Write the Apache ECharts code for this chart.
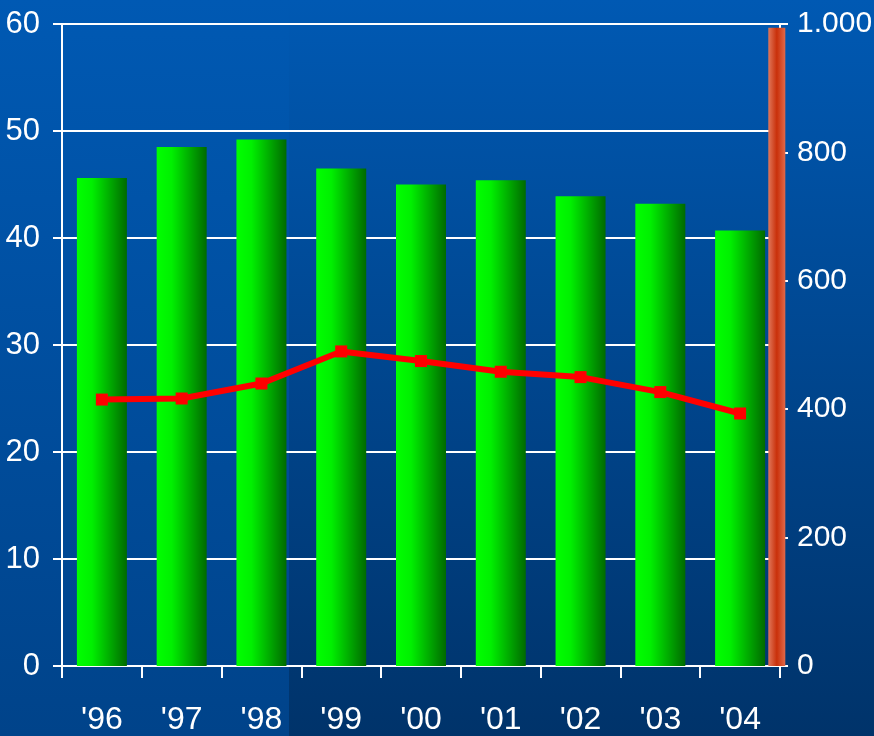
<!DOCTYPE html>
<html>
<head>
<meta charset="utf-8">
<script src="https://cdn.jsdelivr.net/npm/echarts@6/dist/echarts.min.js"></script>
<style>
html, body { margin: 0; padding: 0; background: #003366; }
#chart { width: 874px; height: 736px; }
</style>
</head>
<body>
<div id="chart"></div>
<script>
// data
var years = ["'96", "'97", "'98", "'99", "'00", "'01", "'02", "'03", "'04"];
var barValues = [45.6, 48.5, 49.2, 46.5, 45.0, 45.4, 43.9, 43.2, 40.7];
var lineValues = [24.9, 25.0, 26.4, 29.4, 28.5, 27.5, 27.0, 25.6, 23.6];
// orange bar on the right axis, sits just past the last year
var totalBar = [[8.96, 994]];

var FONT = "'Liberation Sans', Arial, sans-serif";

var myChart = echarts.init(document.getElementById('chart'));

var option = {
	animation: false,
	backgroundColor: 'transparent',
	graphic: [
		{
			type: 'rect', z: -10, silent: true,
			shape: { x: 0, y: 0, width: 289, height: 736 },
			style: { fill: new echarts.graphic.LinearGradient(0, 0, 0, 1, [
				{ offset: 0, color: '#0059b3' },
				{ offset: 1, color: '#00438a' }
			]) }
		},
		{
			type: 'rect', z: -10, silent: true,
			shape: { x: 289, y: 0, width: 585, height: 736 },
			style: { fill: new echarts.graphic.LinearGradient(0, 0, 0, 1, [
				{ offset: 0, color: '#0059b3' },
				{ offset: 1, color: '#00336a' }
			]) }
		}
	],
	grid: {
		left: 62,
		right: 94,
		top: 24,
		bottom: 70,
		outerBoundsMode: 'none'
	},
	xAxis: [
		{
			type: 'category',
			data: years,
			boundaryGap: true,
			axisLine: { lineStyle: { color: '#fff', width: 2 } },
			axisTick: { show: true, length: 12, lineStyle: { color: '#fff', width: 2 } },
			axisLabel: { color: '#fff', fontFamily: FONT, fontSize: 32, margin: 38 }
		},
		{
			type: 'value',
			min: 0,
			max: 9,
			show: false
		}
	],
	yAxis: [
		{
			type: 'value',
			min: 0,
			max: 60,
			interval: 10,
			axisLine: { show: true, lineStyle: { color: '#fff', width: 2 } },
			axisTick: { show: true, length: 9, lineStyle: { color: '#fff', width: 2 } },
			axisLabel: { color: '#fff', fontFamily: FONT, fontSize: 31, margin: 22 },
			splitLine: { lineStyle: { color: '#fff', width: 2 } }
		},
		{
			type: 'value',
			min: 0,
			max: 1000,
			interval: 200,
			position: 'right',
			axisLine: { show: true, lineStyle: { color: '#fff', width: 2 } },
			axisTick: { show: true, length: 8, lineStyle: { color: '#fff', width: 2 } },
			axisLabel: {
				color: '#fff', fontFamily: FONT, fontSize: 30, margin: 17,
				formatter: function (v) {
					return v >= 1000 ? (Math.floor(v / 1000) + '.' + ('00' + (v % 1000)).slice(-3)) : String(v);
				}
			},
			splitLine: { show: false }
		}
	],
	series: [
		{
			name: 'bars',
			type: 'bar',
			xAxisIndex: 0,
			yAxisIndex: 0,
			barWidth: 50,
			data: barValues,
			itemStyle: {
				color: new echarts.graphic.LinearGradient(0, 0, 1, 0, [
					{ offset: 0, color: '#00ff00' },
					{ offset: 0.3, color: '#00f000' },
					{ offset: 1, color: '#006a00' }
				])
			}
		},
		{
			name: 'total',
			type: 'bar',
			xAxisIndex: 1,
			yAxisIndex: 1,
			barWidth: 17,
			data: totalBar,
			z: 5,
			itemStyle: {
				color: new echarts.graphic.LinearGradient(0, 0, 1, 0, [
					{ offset: 0, color: '#e0775a' },
					{ offset: 0.5, color: '#c9300a' },
					{ offset: 1, color: '#e0694a' }
				])
			}
		},
		{
			name: 'line',
			type: 'line',
			xAxisIndex: 0,
			yAxisIndex: 0,
			data: lineValues,
			symbol: 'rect',
			symbolSize: 12,
			z: 6,
			lineStyle: { color: '#ff0000', width: 6 },
			itemStyle: { color: '#ff0000' }
		}
	]
};

myChart.setOption(option);
</script>
</body>
</html>
